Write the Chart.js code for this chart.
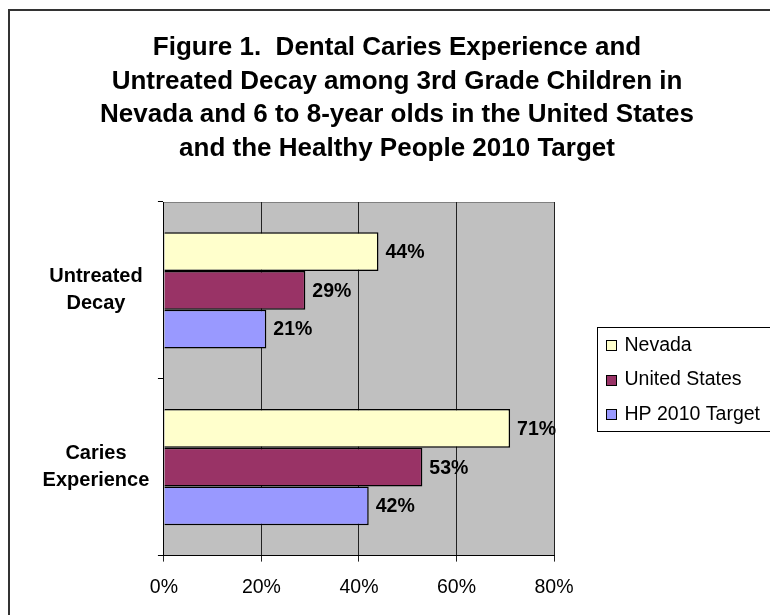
<!DOCTYPE html>
<html>
<head>
<meta charset="utf-8">
<script src="https://cdn.jsdelivr.net/npm/chart.js@4.4.0/dist/chart.umd.min.js"></script>
<style>
  html, body { margin: 0; padding: 0; background: #fff; overflow: hidden; }
  #frame { position: absolute; left: 8px; top: 9px; width: 800px; height: 620px; border-left: 2px solid #333; border-top: 2px solid #333; }
  #statChart { position: absolute; left: 0; top: 0; }
</style>
</head>
<body>
<div id="frame">
  <canvas id="statChart" width="774" height="604"></canvas>
</div>
<script>
// ---------------- data ----------------
const categories = [["Untreated", "Decay"], ["Caries", "Experience"]];
const seriesNames = ["Nevada", "United States", "HP 2010 Target"];
const nevada = [44, 71];
const unitedStates = [29, 53];
const hpTarget = [21, 42];
const xTicks = [0, 20, 40, 60, 80];
const titleLines = [
  "Figure 1.  Dental Caries Experience and",
  "Untreated Decay among 3rd Grade Children in",
  "Nevada and 6 to 8-year olds in the United States",
  "and the Healthy People 2010 Target"
];

const colors = ["#FFFFCC", "#993366", "#9999FF"];
const FONT = "'Liberation Sans', Arial, sans-serif";

// gray plot background + thin top edge
const plotBackground = {
  id: "plotBackground",
  beforeDraw(chart) {
    const { ctx, chartArea: a } = chart;
    ctx.save();
    ctx.fillStyle = "#C0C0C0";
    ctx.fillRect(a.left, a.top, a.right - a.left, a.bottom - a.top);
    ctx.strokeStyle = "#808080";
    ctx.lineWidth = 1;
    ctx.beginPath();
    ctx.moveTo(a.left, a.top + 0.5);
    ctx.lineTo(a.right, a.top + 0.5);
    ctx.stroke();
    ctx.restore();
  }
};

// centred 4-line title over the whole frame (not just the plot width)
const bigTitle = {
  id: "bigTitle",
  afterDraw(chart) {
    const ctx = chart.ctx;
    ctx.save();
    ctx.font = "bold 26px " + FONT;
    ctx.fillStyle = "#000";
    ctx.textAlign = "center";
    ctx.textBaseline = "middle";
    titleLines.forEach((line, i) => {
      ctx.fillText(line, chart.width / 2, 37 + i * 33.5);
    });
    ctx.restore();
  }
};

// value labels at the end of every bar
const valueLabels = {
  id: "valueLabels",
  afterDatasetsDraw(chart) {
    const ctx = chart.ctx;
    ctx.save();
    ctx.font = "bold 19.5px " + FONT;
    ctx.fillStyle = "#000";
    ctx.textAlign = "left";
    ctx.textBaseline = "middle";
    chart.data.datasets.forEach((ds, i) => {
      chart.getDatasetMeta(i).data.forEach((bar, j) => {
        ctx.fillText(ds.data[j] + "%", bar.x + 7, bar.y + 1);
      });
    });
    ctx.restore();
  }
};

// boxed legend to the right of the plot
const boxLegend = {
  id: "boxLegend",
  afterDraw(chart) {
    const { ctx, chartArea: a } = chart;
    const rowH = 34.5;
    const n = chart.data.datasets.length;
    const boxH = rowH * n;
    const left = a.right + 43.5;
    const top = (a.top + a.bottom) / 2 - boxH / 2;
    ctx.save();
    ctx.strokeStyle = "#000";
    ctx.lineWidth = 1;
    ctx.strokeRect(left, Math.round(top) + 0.5, 190, Math.round(boxH));
    ctx.font = "19.5px " + FONT;
    ctx.textAlign = "left";
    ctx.textBaseline = "middle";
    chart.data.datasets.forEach((ds, i) => {
      const cy = top + rowH * (i + 0.5) + 1;
      ctx.fillStyle = ds.backgroundColor;
      ctx.fillRect(left + 9, Math.round(cy - 5), 10, 10);
      ctx.strokeRect(left + 9, Math.round(cy - 5) + 0.5, 10, 10);
      ctx.fillStyle = "#000";
      ctx.fillText(ds.label, left + 27, cy);
    });
    ctx.restore();
  }
};

const datasets = [nevada, unitedStates, hpTarget].map((vals, i) => ({
  label: seriesNames[i],
  data: vals,
  backgroundColor: colors[i],
  borderColor: "#000",
  borderWidth: 1.5,
  categoryPercentage: 0.657,
  barPercentage: 1
}));

const ctx = document.querySelector("#statChart").getContext("2d");
const chart = new Chart(ctx, {
  type: "bar",
  data: { labels: categories, datasets: datasets },
  plugins: [plotBackground, valueLabels, boxLegend, bigTitle],
  options: {
    indexAxis: "y",
    responsive: false,
    animation: false,
    devicePixelRatio: 1,
    layout: { padding: { left: 24, right: 230, top: 191, bottom: 2 } },
    plugins: {
      legend: { display: false },
      tooltip: { enabled: false },
      title: { display: false }
    },
    scales: {
      x: {
        min: 0,
        max: 80,
        afterBuildTicks(scale) {
          scale.ticks = xTicks.map(v => ({ value: v }));
        },
        grid: { color: "#222", lineWidth: 1, tickLength: 6, drawTicks: true },
        border: { color: "#000", width: 1 },
        ticks: {
          color: "#000",
          padding: 14,
          font: { family: FONT, size: 19.5 },
          callback: v => v + "%"
        }
      },
      y: {
        grid: { drawOnChartArea: false, offset: true, tickLength: 6, color: "#000" },
        border: { color: "#000", width: 1 },
        ticks: {
          color: "#000",
          padding: 8.6,
          crossAlign: "center",
          font: { family: FONT, size: 20, weight: "bold", lineHeight: 1.35 }
        }
      }
    }
  }
});
</script>
</body>
</html>
